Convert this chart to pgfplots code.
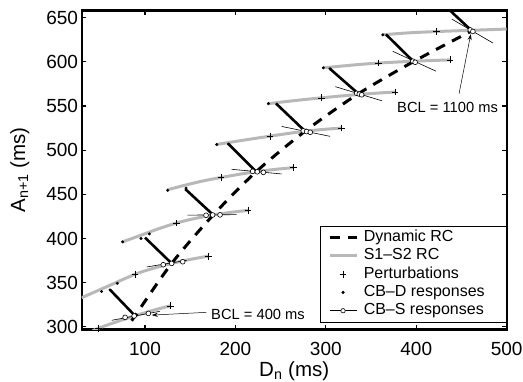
\documentclass[border=0pt]{standalone}
\usepackage{fontspec}
\setmainfont{Liberation Sans}
\usepackage{pgfplots}
\pgfplotsset{compat=1.18}
\usetikzlibrary{arrows.meta}
\definecolor{rcgray}{gray}{0.72}
\begin{document}
\begin{tikzpicture}
\useasboundingbox (-81.7pt,-51.7pt) rectangle (441.3pt,329.5pt);
\begin{axis}[
 at={(0pt,0pt)}, anchor=south west,
 scale only axis, width=425pt, height=319pt,
 xmin=30, xmax=500, ymin=297, ymax=658,
 xtick={100,200,300,400,500}, ytick={300,350,...,650},
 tick align=inside, major tick length=4.5pt,
 tick style={black, line width=1.2pt},
 axis line style={line width=2.2pt},
 /pgf/number format/assume math mode=true,
 ticklabel style={font=\fontsize{19}{19}\selectfont},
 xticklabel style={anchor=north, inner sep=0pt, yshift=-12.5pt},
 yticklabel style={anchor=east, inner sep=0pt, xshift=-3.5pt},
 every axis x label/.style={at={(axis description cs:0.5,-0.1473)}, anchor=base, font=\fontsize{20.5}{20.5}\selectfont},
 every axis y label/.style={at={(axis description cs:-0.1334,0.5)}, anchor=base, rotate=90, font=\fontsize{20.5}{20.5}\selectfont},
 xlabel={D\textsubscript{n} (ms)},
 ylabel={A\textsubscript{n+1} (ms)},
 legend style={draw=black, line width=0.6pt, fill=white, at={(1,0.022)}, anchor=south east,
   inner xsep=8pt, inner ysep=2.3pt, row sep=0pt, font=\fontsize{16}{16}\selectfont,
   nodes={inner sep=1.7pt, text height=11.6pt, text depth=3.3pt}},
 legend cell align=left,
 legend image code/.code={\draw[mark repeat=2,mark phase=2,#1] plot coordinates {(0pt,0pt)(13.5pt,0pt)(27pt,0pt)}; \path (31pt,0pt);},
]
\addlegendimage{black, line width=3pt, dash pattern=on 10pt off 8pt}
\addlegendentry{Dynamic RC}
\addlegendimage{rcgray, line width=3pt}
\addlegendentry{S1–S2 RC}
\addlegendimage{only marks, mark=+, mark size=3.4pt, black, line width=0.6pt}
\addlegendentry{Perturbations}
\addlegendimage{only marks, mark=*, mark size=1.3pt, black}
\addlegendentry{CB–D responses\hspace*{12pt}}
\addlegendimage{black, line width=0.6pt, mark=*, mark size=2.2pt, mark options={fill=white, line width=0.6pt}}
\addlegendentry{CB–S responses}

% S1-S2 restitution curves (gray)
\addplot[forget plot, rcgray, line width=3pt, smooth] coordinates {(40,294) (48.3,298.4) (70,306.2) (89,312.5) (110,319) (128,323.8)};
\addplot[forget plot, rcgray, line width=3pt, smooth] coordinates {(30,333) (60,346.5) (89,359.5) (110,366.5) (129.5,371.8) (150,376.3) (170,380)};
\addplot[forget plot, rcgray, line width=3pt, smooth] coordinates {(75.3,396.2) (95,403.5) (115,411) (135,417.6) (155,422.6) (175.5,426.6) (195,429.6) (214,431.8)};
\addplot[forget plot, rcgray, line width=3pt, smooth] coordinates {(124.5,455) (145,460.5) (165,465.3) (184,469) (204,472.6) (223,475.6) (244,478.2) (264,480.2)};
\addplot[forget plot, rcgray, line width=3pt, smooth] coordinates {(179.3,506.4) (200,509.8) (220,513) (238.3,515.8) (258,518.8) (277,521.4) (297,523.4) (317.6,525)};
\addplot[forget plot, rcgray, line width=3pt, smooth] coordinates {(236.4,552.6) (265,556) (295.5,559.2) (336,563) (376.5,565.8)};
\addplot[forget plot, rcgray, line width=3pt, smooth] coordinates {(297.2,593.1) (330,596.3) (358,598.5) (397,600.6) (437.4,602.1)};
\addplot[forget plot, rcgray, line width=3pt, smooth] coordinates {(363,630.5) (390,632.6) (422.7,634.2) (461.4,635.6) (500,637)};

% Dynamic restitution curve (dashed)
\addplot[forget plot, black, line width=3pt, dash pattern=on 10pt off 8pt, smooth] coordinates {(86,308) (89,312.5) (129.5,371.8) (175.5,426.6) (223,475.6) (277,521.4) (336,563.8) (397,600.2) (461.4,635)};

% CB-D paths (thick black)
\addplot[forget plot, black, line width=2.6pt] coordinates {(61.3,342) (89,312.5)};
\addplot[forget plot, black, line width=2.6pt] coordinates {(100,401) (129.5,371.8)};
\addplot[forget plot, black, line width=2.6pt] coordinates {(144.5,456) (175.5,426.6)};
\addplot[forget plot, black, line width=2.6pt] coordinates {(192.2,507) (223,475.6)};
\addplot[forget plot, black, line width=2.6pt] coordinates {(245.7,552) (277,521.4)};
\addplot[forget plot, black, line width=2.6pt] coordinates {(304.6,592) (336,563.8)};
\addplot[forget plot, black, line width=2.6pt] coordinates {(367.4,630) (397,600.2)};
\addplot[forget plot, black, line width=2.6pt] coordinates {(430,665) (461.4,635)};

% CB-S lines (thin black)
\addplot[forget plot, black, line width=0.6pt] coordinates {(63.2,307.4) (116.6,317.6)};
\addplot[forget plot, black, line width=0.6pt] coordinates {(101.9,367.8) (146.1,375.2)};
\addplot[forget plot, black, line width=0.6pt] coordinates {(146.8,426.4) (201.4,427)};
\addplot[forget plot, black, line width=0.6pt] coordinates {(195.9,478.3) (251.2,473)};
\addplot[forget plot, black, line width=0.6pt] coordinates {(251.2,526.8) (304.6,515.6)};
\addplot[forget plot, black, line width=0.6pt] coordinates {(310.5,571.8) (362.1,555.8)};
\addplot[forget plot, black, line width=0.6pt] coordinates {(374,611.8) (421.9,589.3)};
\addplot[forget plot, black, line width=0.6pt] coordinates {(439.3,648.3) (484.8,621.2)};

% CB-D responses (dots)
\addplot[forget plot, only marks, mark=*, mark size=1.3pt, black] coordinates {
 (52,340) (61.3,341.8) (69.4,349.3)
 (75.3,396.2) (95.6,400) (104.8,405.2)
 (125.1,454.5) (145.4,457)
 (179.3,506.4) (192.2,506.8)
 (236.4,552.6) (245.7,552)
 (297.2,593.1) (304.6,592)
 (363,630.5) (367.4,630)};

% Perturbations
\addplot[forget plot, only marks, mark=+, mark size=3.4pt, black, line width=0.6pt] coordinates {
 (48.3,298.4) (128,323.8)
 (89,359.5) (170,380)
 (135,417.6) (214,431.8)
 (184,469) (264,480.2)
 (238.3,515.8) (317.6,525)
 (295.5,559.2) (376.5,565.8)
 (358,598.5) (437.4,602.1)
 (422.7,634.2) (501,637)};

% CB-S responses (open circles)
\addplot[forget plot, only marks, mark=*, mark size=2.4pt, mark options={fill=white, draw=black, line width=0.6pt}] coordinates {
 (78,310.7) (88,312.3) (103.7,315.2)
 (120.2,370.3) (129.5,371.8) (141.7,373.7)
 (167.5,426.3) (174.8,426.6) (183,426.7)
 (219.1,476) (224.2,475.5) (230.9,474.8)
 (275,521.8) (278.8,521) (282.8,520.2)
 (334.1,564.3) (337,563.4) (339.6,562.6)
 (396.2,600.6) (398.8,599.4)
 (459.7,636) (462.6,634.3)};

\node[font=\fontsize{14.7}{14.7}\selectfont] at (axis cs:225,314.4) {BCL = 400 ms};
\draw[-{Stealth[length=6pt,width=4pt]}, line width=0.5pt] (axis cs:168,316.4) -- (axis cs:107.5,313.3);
\node[font=\fontsize{14.7}{14.7}\selectfont] at (axis cs:434.6,548) {BCL = 1100 ms};
\draw[-{Stealth[length=6pt,width=4pt]}, line width=0.5pt] (axis cs:447.3,563.8) -- (axis cs:460.3,631.3);
\end{axis}
\end{tikzpicture}
\end{document}
